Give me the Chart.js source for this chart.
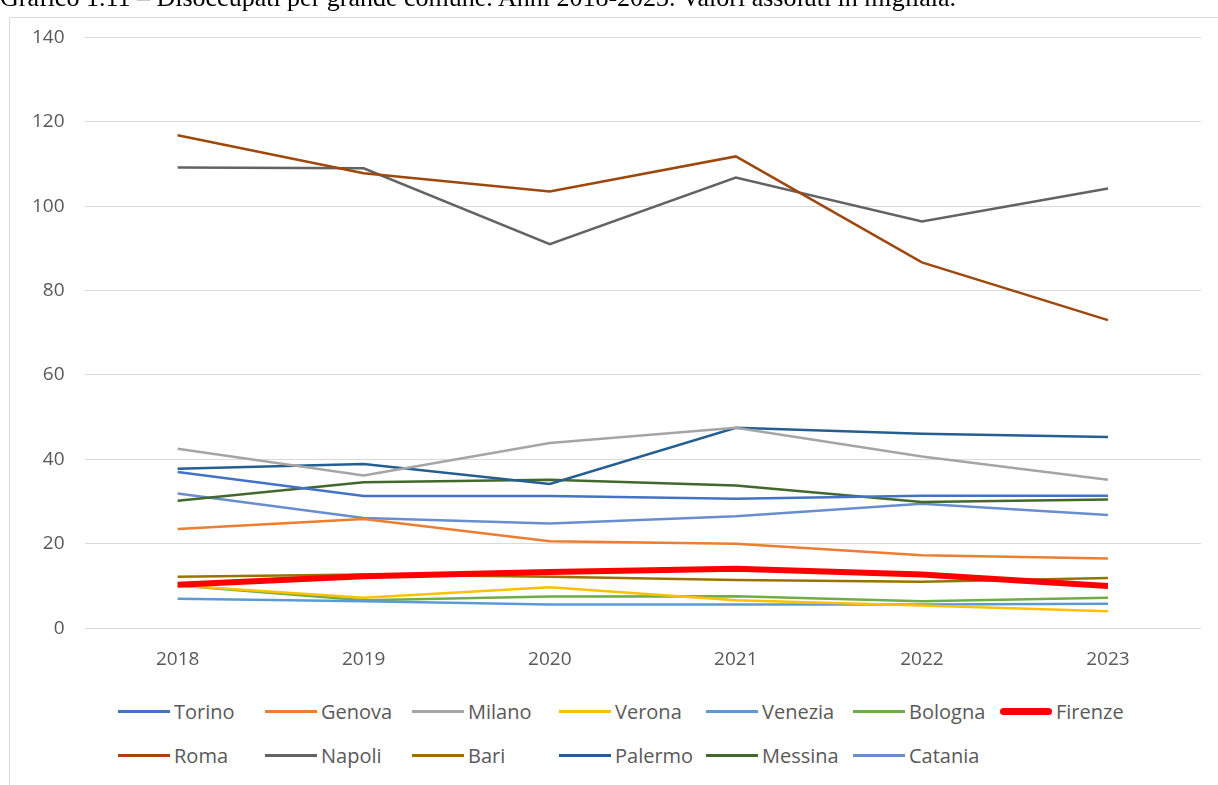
<!DOCTYPE html>
<html>
<head>
<meta charset="utf-8">
<script src="https://cdn.jsdelivr.net/npm/chart.js@4.4.1/dist/chart.umd.min.js"></script>
<style>
  body { margin: 0; background: #fff; overflow: hidden; width: 1218px; height: 785px; position: relative; }
  #title { position: absolute; left: 0; top: -17px; font: 26px "Liberation Serif", serif; color: #000; white-space: nowrap; }
  #frame { position: absolute; left: 9px; top: 17px; width: 1215px; height: 790px; border: 1px solid #d9d9d9; box-sizing: border-box; background: transparent; }
  #wrap { position: absolute; left: 0; top: -12px; width: 1208px; height: 677px; }
  #legend { position: absolute; left: 108px; top: 671px; font: 20px "Open Sans", sans-serif; color: #595959; }
  .row { display: flex; height: 44px; align-items: center; }
  .item { width: 147px; display: flex; align-items: center; white-space: nowrap; }
  .swatch { width: 52px; height: 3px; margin-right: 4px; }
</style>
</head>
<body>
<div id="frame">
  <div id="wrap"><canvas id="lineChart"></canvas></div>
  <div id="legend"></div>
</div>
<div id="title">Grafico 1.11 – Disoccupati per grande comune. Anni 2018-2023. Valori assoluti in migliaia.</div>
<script>
// Data (thousands of unemployed)
const years = ['2018', '2019', '2020', '2021', '2022', '2023'];
const cities = ['Torino', 'Genova', 'Milano', 'Verona', 'Venezia', 'Bologna', 'Firenze',
                'Roma', 'Napoli', 'Bari', 'Palermo', 'Messina', 'Catania'];
const torino  = [37.0, 31.3, 31.3, 30.7, 31.4, 31.4];
const genova  = [23.5, 25.9, 20.6, 20.0, 17.3, 16.5];
const milano  = [42.5, 36.2, 43.9, 47.5, 40.7, 35.2];
const verona  = [10.1, 7.2, 9.7, 6.6, 5.4, 4.0];
const venezia = [7.0, 6.4, 5.6, 5.6, 5.6, 5.8];
const bologna = [10.1, 6.6, 7.5, 7.6, 6.4, 7.2];
const firenze = [10.3, 12.3, 13.3, 14.1, 12.7, 10.0];
const roma    = [116.8, 107.8, 103.5, 111.8, 86.7, 73.0];
const napoli  = [109.2, 109.0, 91.0, 106.8, 96.4, 104.2];
const bari    = [12.2, 12.7, 12.2, 11.4, 11.0, 11.9];
const palermo = [37.8, 38.9, 34.2, 47.5, 46.1, 45.3];
const messina = [30.2, 34.6, 35.2, 33.8, 29.9, 30.5];
const catania = [31.9, 26.1, 24.8, 26.5, 29.5, 26.8];
const yTicks = [0, 20, 40, 60, 80, 100, 120, 140];

const series = [torino, genova, milano, verona, venezia, bologna, firenze,
                roma, napoli, bari, palermo, messina, catania];
const colors = ['#4472C4', '#ED7D31', '#A5A5A5', '#FFC000', '#5B9BD5', '#70AD47', '#FF0000',
                '#9E480E', '#636363', '#997300', '#255E91', '#43682B', '#698ED0'];

const datasets = series.map((vals, i) => ({
  label: cities[i],
  data: vals,
  borderColor: colors[i],
  backgroundColor: colors[i],
  borderWidth: cities[i] === 'Firenze' ? 6 : 2.5,
  pointRadius: 0,
  tension: 0,
  order: cities[i] === 'Firenze' ? 0 : 1
}));

const ctx = document.getElementById('lineChart').getContext('2d');
new Chart(ctx, {
  type: 'line',
  data: { labels: years, datasets: datasets },
  options: {
    responsive: true,
    maintainAspectRatio: false,
    animation: false,
    layout: { padding: { top: 9, right: 17, left: 2, bottom: 0 } },
    scales: {
      x: {
        offset: true,
        grid: { display: false },
        border: { display: false },
        ticks: { color: '#595959', font: { family: 'Open Sans', size: 19 }, padding: 12 }
      },
      y: {
        min: 0,
        max: 140,
        afterBuildTicks: axis => { axis.ticks = yTicks.map(v => ({ value: v })); },
        grid: { color: '#d9d9d9', lineWidth: 1, drawTicks: false },
        border: { display: false },
        ticks: { color: '#595959', font: { family: 'Open Sans', size: 19 }, padding: 20 }
      }
    },
    plugins: {
      legend: { display: false },
      tooltip: { enabled: false }
    }
  }
});

// Legend in fixed columns, two rows
const legend = document.getElementById('legend');
[cities.slice(0, 7), cities.slice(7)].forEach((rowNames, r) => {
  const row = document.createElement('div');
  row.className = 'row';
  rowNames.forEach((name, j) => {
    const idx = r * 7 + j;
    const item = document.createElement('div');
    item.className = 'item';
    const sw = document.createElement('span');
    sw.className = 'swatch';
    sw.style.background = colors[idx];
    if (name === 'Firenze') { sw.style.height = '7px'; sw.style.borderRadius = '4px'; }
    const txt = document.createElement('span');
    txt.textContent = name;
    item.appendChild(sw);
    item.appendChild(txt);
    row.appendChild(item);
  });
  legend.appendChild(row);
});
</script>
</body>
</html>
